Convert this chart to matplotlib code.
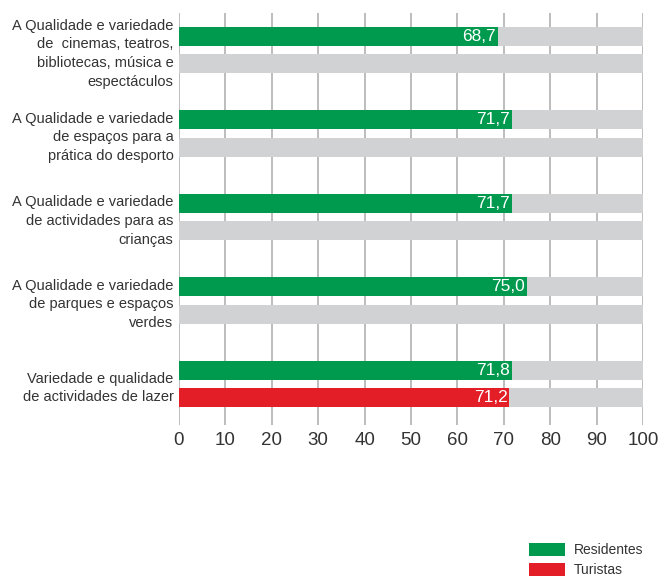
import numpy as np
import matplotlib
matplotlib.use('Agg')
import matplotlib.pyplot as plt
from matplotlib.patches import Patch

plt.rcParams['font.family'] = ['Liberation Sans', 'DejaVu Sans']

# データ
categorias = [
    'A Qualidade e variedade\nde  cinemas, teatros,\nbibliotecas, música e\nespectáculos',
    'A Qualidade e variedade\nde espaços para a\nprática do desporto',
    'A Qualidade e variedade\nde actividades para as\ncrianças',
    'A Qualidade e variedade\nde parques e espaços\nverdes',
    'Variedade e qualidade\nde actividades de lazer',
]
residentes = [68.7, 71.7, 71.7, 75.0, 71.8]
turistas = [np.nan, np.nan, np.nan, np.nan, 71.2]
ticks = [0, 10, 20, 30, 40, 50, 60, 70, 80, 90, 100]

VERDE = '#009a4e'
VERMELHO = '#e31e26'
CINZA = '#d1d2d4'
TEXTO = '#333333'

fig = plt.figure(figsize=(6.61, 5.76), dpi=100)
ax = fig.add_axes([179 / 661, 151 / 576, 464 / 661, 412 / 576])

y = np.arange(len(categorias))
off = 0.165
h = 0.228

# 背景バー（100まで）
ax.barh(y - off, 100, height=h, color=CINZA, zorder=2)
ax.barh(y + off, 100, height=h, color=CINZA, zorder=2)

# データバー
ax.barh(y - off, residentes, height=h, color=VERDE, zorder=3)
tur = np.array(turistas)
mask = ~np.isnan(tur)
ax.barh(y[mask] + off, tur[mask], height=h, color=VERMELHO, zorder=3)

# 値ラベル
for yi, v in zip(y, residentes):
    ax.text(v - 0.4, yi - off, f'{v:.1f}'.replace('.', ','), color='white',
            ha='right', va='center', fontsize=12.5, zorder=4)
for yi, v in zip(y[mask], tur[mask]):
    ax.text(v - 0.4, yi + off, f'{v:.1f}'.replace('.', ','), color='white',
            ha='right', va='center', fontsize=12.5, zorder=4)

ax.set_xlim(0, 100)
ax.set_ylim(4.491, -0.443)
ax.set_xticks(ticks)
ax.set_xticklabels([str(t) for t in ticks], fontsize=13.5, color=TEXTO)
ax.set_yticks(y)
ax.set_yticklabels(categorias, fontsize=10.5, color=TEXTO, linespacing=1.45)
ax.tick_params(axis='both', length=0)
ax.tick_params(axis='x', pad=5)
ax.tick_params(axis='y', pad=4)

for s in ax.spines.values():
    s.set_visible(False)
ax.grid(axis='x', color='#b8b8b8', linewidth=1.3, zorder=1)
ax.set_axisbelow(True)

handles = [Patch(facecolor=VERDE, label='Residentes'),
           Patch(facecolor=VERMELHO, label='Turistas')]
leg = fig.legend(handles=handles, loc='upper left',
                 bbox_to_anchor=(529 / 661, 1 - 543 / 576),
                 frameon=False, fontsize=10, borderpad=0, borderaxespad=0,
                 handlelength=2.6, handleheight=1.1, handletextpad=0.6,
                 labelspacing=0.4)
for t in leg.get_texts():
    t.set_color(TEXTO)

fig.savefig('out.png', dpi=100)
plt.close(fig)
